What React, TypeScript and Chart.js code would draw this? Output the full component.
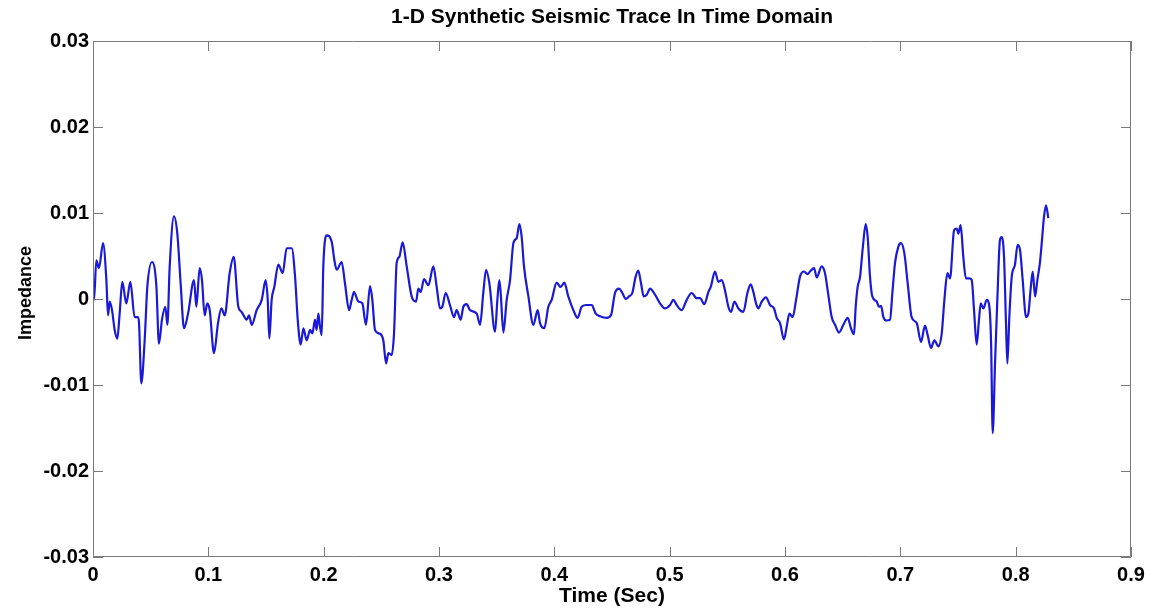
import React, { useEffect, useRef } from "react";
import { Chart, registerables } from "chart.js";

Chart.register(...registerables);

const TITLE = "1-D Synthetic Seismic Trace In Time Domain";
const X_LABEL = "Time (Sec)";
const Y_LABEL = "Impedance";

const X_TICKS = [0, 0.1, 0.2, 0.3, 0.4, 0.5, 0.6, 0.7, 0.8, 0.9];
const Y_TICKS = [-0.03, -0.02, -0.01, 0, 0.01, 0.02, 0.03];

const times = [
  0, 0.0009, 0.0029, 0.0052, 0.0087, 0.0116, 0.013, 0.0145, 0.0165, 0.0188,
  0.0211, 0.0231, 0.0254, 0.0289, 0.0324, 0.0361, 0.039, 0.0399, 0.0419, 0.0448,
  0.0471, 0.0512, 0.0549, 0.0572, 0.0598, 0.0627, 0.0645, 0.0665, 0.0702, 0.0731,
  0.076, 0.0789, 0.0824, 0.0876, 0.0896, 0.0925, 0.0945, 0.0968, 0.0991, 0.1012,
  0.1049, 0.1084, 0.1113, 0.1142, 0.1185, 0.122, 0.126, 0.1289, 0.1332, 0.1353,
  0.1376, 0.1419, 0.1463, 0.1497, 0.1515, 0.1529, 0.1549, 0.1572, 0.1607, 0.1645,
  0.1679, 0.1723, 0.1752, 0.1775, 0.1801, 0.1824, 0.1853, 0.1882, 0.1902, 0.1925,
  0.1939, 0.1954, 0.1968, 0.1983, 0.1997, 0.2026, 0.2069, 0.2093, 0.2113, 0.2156,
  0.2185, 0.222, 0.2243, 0.2263, 0.2301, 0.2335, 0.2367, 0.2402, 0.2422, 0.2445,
  0.248, 0.2517, 0.2541, 0.2561, 0.259, 0.261, 0.2633, 0.2656, 0.2685, 0.272,
  0.2763, 0.2801, 0.2821, 0.2841, 0.287, 0.2908, 0.2951, 0.298, 0.3009, 0.3029,
  0.3058, 0.3095, 0.313, 0.3153, 0.3188, 0.3211, 0.324, 0.3269, 0.3327, 0.3356,
  0.3384, 0.3408, 0.3437, 0.3486, 0.3506, 0.3523, 0.3535, 0.3558, 0.3587, 0.3616,
  0.3645, 0.3674, 0.3697, 0.3717, 0.3737, 0.3775, 0.3818, 0.3856, 0.3876, 0.3913,
  0.3948, 0.3977, 0.402, 0.4055, 0.4087, 0.4121, 0.4165, 0.4202, 0.4237, 0.428,
  0.4324, 0.4359, 0.4396, 0.4454, 0.4491, 0.4526, 0.4561, 0.459, 0.4619, 0.4648,
  0.4676, 0.4705, 0.4728, 0.4752, 0.4775, 0.4801, 0.483, 0.4873, 0.4916, 0.496,
  0.5003, 0.5032, 0.5061, 0.5104, 0.5148, 0.5191, 0.5234, 0.5263, 0.5301, 0.5335,
  0.5356, 0.5393, 0.5422, 0.5451, 0.548, 0.5509, 0.5532, 0.5561, 0.5596, 0.5639,
  0.5674, 0.5703, 0.5726, 0.5749, 0.5769, 0.5798, 0.5835, 0.587, 0.5905, 0.5928,
  0.5957, 0.5991, 0.6015, 0.6038, 0.6067, 0.6096, 0.613, 0.6165, 0.6194, 0.6217,
  0.6252, 0.6275, 0.6318, 0.6347, 0.637, 0.6405, 0.6434, 0.6468, 0.6506, 0.6544,
  0.6572, 0.6598, 0.6613, 0.663, 0.6651, 0.6674, 0.67, 0.6717, 0.6737, 0.6757,
  0.6795, 0.6815, 0.6833, 0.6853, 0.6882, 0.6911, 0.6931, 0.6954, 0.6983, 0.7006,
  0.7035, 0.7064, 0.7098, 0.7142, 0.7179, 0.7214, 0.7237, 0.7266, 0.7295, 0.733,
  0.7359, 0.7382, 0.7408, 0.7431, 0.7466, 0.7489, 0.7503, 0.7523, 0.7546, 0.7569,
  0.7598, 0.7619, 0.7639, 0.7662, 0.7682, 0.7697, 0.772, 0.7749, 0.7772, 0.7787,
  0.7801, 0.7821, 0.7841, 0.7864, 0.7879, 0.7899, 0.7916, 0.7928, 0.7945, 0.7966,
  0.7994, 0.8017, 0.8038, 0.8061, 0.809, 0.811, 0.813, 0.8148, 0.8168, 0.8188,
  0.8211, 0.8226, 0.8246, 0.8263, 0.8283,
];

const impedance = [
  0, -0.0001, 0.0045, 0.0036, 0.0065, 0.0022, -0.0019, -0.0003, -0.0013, -0.0036,
  -0.0046, -0.0017, 0.002, -0.0005, 0.002, -0.0021, -0.0021, -0.0028, -0.0098, -0.0048,
  0.0014, 0.0043, 0.0016, -0.0052, -0.0024, -0.0009, -0.003, 0.0038, 0.0096, 0.0076,
  0.0018, -0.0034, -0.0017, 0.0022, -0.0009, 0.0036, 0.0022, -0.0019, -0.0005, -0.0013,
  -0.0063, -0.0028, -0.0011, -0.0019, 0.003, 0.0049, -0.0009, -0.0015, -0.0024, -0.0019,
  -0.003, -0.0013, -0.0001, 0.0022, -0.0001, -0.0046, -0.0001, 0.0014, 0.004, 0.003,
  0.0059, 0.0059, 0.0026, -0.0024, -0.0053, -0.0034, -0.0048, -0.0036, -0.004, -0.0024,
  -0.0036, -0.0017, -0.0032, -0.0042, 0.0038, 0.0074, 0.0067, 0.0045, 0.0034, 0.0043,
  0.0018, -0.0013, -0.0001, 0.0008, -0.0003, -0.0005, -0.003, 0.0015, -0.0001, -0.0036,
  -0.004, -0.0048, -0.0075, -0.0063, -0.0065, -0.004, 0.0042, 0.0049, 0.0066, 0.0038,
  0.0003, -0.0003, 0.0012, 0.0008, 0.0023, 0.0016, 0.0038, 0.0014, -0.0011, -0.0009,
  0.0007, -0.0007, -0.0021, -0.0013, -0.0024, -0.0009, -0.0006, -0.0013, -0.0017, -0.003,
  0.0007, 0.0034, 0.0018, -0.0038, -0.0001, 0.0022, 0.0007, -0.0039, -0.0001, 0.0022,
  0.0065, 0.0071, 0.0087, 0.0072, 0.0038, 0.0003, -0.003, -0.0013, -0.0028, -0.0034,
  -0.0009, -0.0001, 0.0019, 0.0014, 0.0019, 0.0003, -0.0013, -0.0022, -0.0009, -0.0007,
  -0.0007, -0.0017, -0.002, -0.0022, -0.0019, 0.0007, 0.0012, 0.0007, 0, 0.0003,
  0.0007, 0.0026, 0.0033, 0.0018, 0.0003, 0.0005, 0.0012, 0.0005, -0.0005, -0.0011,
  -0.0007, -0.0001, -0.0007, -0.0013, -0.0001, 0.0007, 0.0001, 0.0001, -0.0006, 0.0008,
  0.0014, 0.0032, 0.002, 0.0022, 0.001, -0.0009, -0.0015, -0.0003, -0.0011, -0.0015,
  0.0007, 0.0017, 0.0008, -0.0005, -0.0011, -0.0003, 0.0002, -0.0007, -0.0011, -0.0022,
  -0.0028, -0.0047, -0.0032, -0.0017, -0.0021, -0.0001, 0.0026, 0.0032, 0.0029, 0.0032,
  0.0036, 0.0025, 0.0038, 0.003, 0.001, -0.0021, -0.003, -0.0039, -0.003, -0.0022,
  -0.0034, -0.0041, -0.0009, 0.0014, 0.0026, 0.0059, 0.0087, 0.0072, 0.0026, 0.0003,
  -0.0003, -0.0009, -0.0008, -0.0021, -0.0025, -0.0024, 0.0007, 0.0042, 0.0061, 0.0065,
  0.0053, 0.0018, -0.0021, -0.0028, -0.005, -0.0031, -0.0042, -0.0057, -0.0048, -0.0055,
  -0.004, -0.0001, 0.003, 0.0024, 0.008, 0.0082, 0.0076, 0.0086, 0.0049, 0.0024,
  0.0024, 0.0022, -0.0013, -0.0053, -0.0024, -0.0005, -0.0011, -0.0001, -0.0009, -0.0052,
  -0.0156, -0.0075, -0.0001, 0.0069, 0.0072, 0.0049, -0.0028, -0.0075, -0.0021, 0.0026,
  0.004, 0.0063, 0.0057, 0.0022, -0.0021, -0.0017, 0.0012, 0.0032, 0.0003, 0.0022,
  0.0043, 0.0065, 0.0096, 0.0109, 0.0094,
];

const FONT = "'Liberation Sans', Arial, sans-serif";
const FRAME_COLOR = "#7a7a7a";
const LINE_COLOR = "rgb(25,25,215)";

const framePlugin = {
  id: "matlabFrame",
  afterDraw(chart: any) {
    const { ctx, chartArea } = chart;
    const xs = chart.scales.x;
    const ys = chart.scales.y;
    const { left, right, top, bottom } = chartArea;
    const tl = 10;
    ctx.save();
    ctx.strokeStyle = FRAME_COLOR;
    ctx.lineWidth = 1;
    ctx.beginPath();
    ctx.rect(left + 0.5, top + 0.5, right - left - 1, bottom - top - 1);
    ctx.stroke();
    ctx.beginPath();
    for (const v of X_TICKS) {
      const px = Math.round(xs.getPixelForValue(v)) + 0.5;
      ctx.moveTo(px, bottom);
      ctx.lineTo(px, bottom - tl);
      ctx.moveTo(px, top);
      ctx.lineTo(px, top + tl);
    }
    for (const v of Y_TICKS) {
      const py = Math.round(ys.getPixelForValue(v)) + 0.5;
      ctx.moveTo(left, py);
      ctx.lineTo(left + tl, py);
      ctx.moveTo(right, py);
      ctx.lineTo(right - tl, py);
    }
    ctx.stroke();

    ctx.fillStyle = "#000";
    ctx.textAlign = "center";
    ctx.textBaseline = "middle";
    const cx = (left + right) / 2;
    ctx.font = `bold 21px ${FONT}`;
    ctx.fillText(TITLE, cx, 17);
    ctx.font = `bold 21px ${FONT}`;
    ctx.fillText(X_LABEL, cx, 596);
    ctx.translate(26.5, 293);
    ctx.rotate(-Math.PI / 2);
    ctx.font = `bold 18px ${FONT}`;
    ctx.fillText(Y_LABEL, 0, 0);
    ctx.restore();
  },
};

export default function App() {
  const ref = useRef<HTMLCanvasElement | null>(null);

  useEffect(() => {
    document.body.style.margin = "0";
    const canvas = ref.current;
    if (!canvas) return;
    const points = times.map((t, i) => ({ x: t, y: impedance[i] }));
    const chart = new Chart(canvas, {
      type: "line",
      data: {
        datasets: [
          {
            data: points,
            borderColor: LINE_COLOR,
            borderWidth: 2.2,
            pointRadius: 0,
            cubicInterpolationMode: "monotone",
            fill: false,
          },
        ],
      },
      options: {
        animation: false,
        responsive: false,
        maintainAspectRatio: false,
        events: [],
        layout: { padding: { left: 0, top: 41, right: 29, bottom: 0 } },
        plugins: {
          legend: { display: false },
          tooltip: { enabled: false },
          title: { display: false },
        },
        scales: {
          x: {
            type: "linear",
            min: 0,
            max: 0.9,
            afterBuildTicks: (s: any) => {
              s.ticks = X_TICKS.map((v) => ({ value: v }));
            },
            afterFit: (s: any) => {
              s.height = 52;
            },
            grid: { display: false, drawTicks: false },
            border: { display: false },
            ticks: {
              padding: 6,
              color: "#000",
              font: { family: FONT, size: 20, weight: "bold" },
              maxRotation: 0,
              autoSkip: false,
              callback: (v: any) => String(Math.round(Number(v) * 10) / 10),
            },
          },
          y: {
            type: "linear",
            min: -0.03,
            max: 0.03,
            afterBuildTicks: (s: any) => {
              s.ticks = Y_TICKS.map((v) => ({ value: v }));
            },
            afterFit: (s: any) => {
              s.width = 93;
            },
            grid: { display: false, drawTicks: false },
            border: { display: false },
            ticks: {
              padding: 4,
              color: "#000",
              font: { family: FONT, size: 20, weight: "bold" },
              autoSkip: false,
              callback: (v: any) => String(Math.round(Number(v) * 100) / 100),
            },
          },
        },
      },
      plugins: [framePlugin],
    });
    return () => chart.destroy();
  }, []);

  return (
    <div style={{ width: 1160, height: 609, background: "#fff" }}>
      <canvas ref={ref} width={1160} height={609} style={{ display: "block" }} />
    </div>
  );
}
